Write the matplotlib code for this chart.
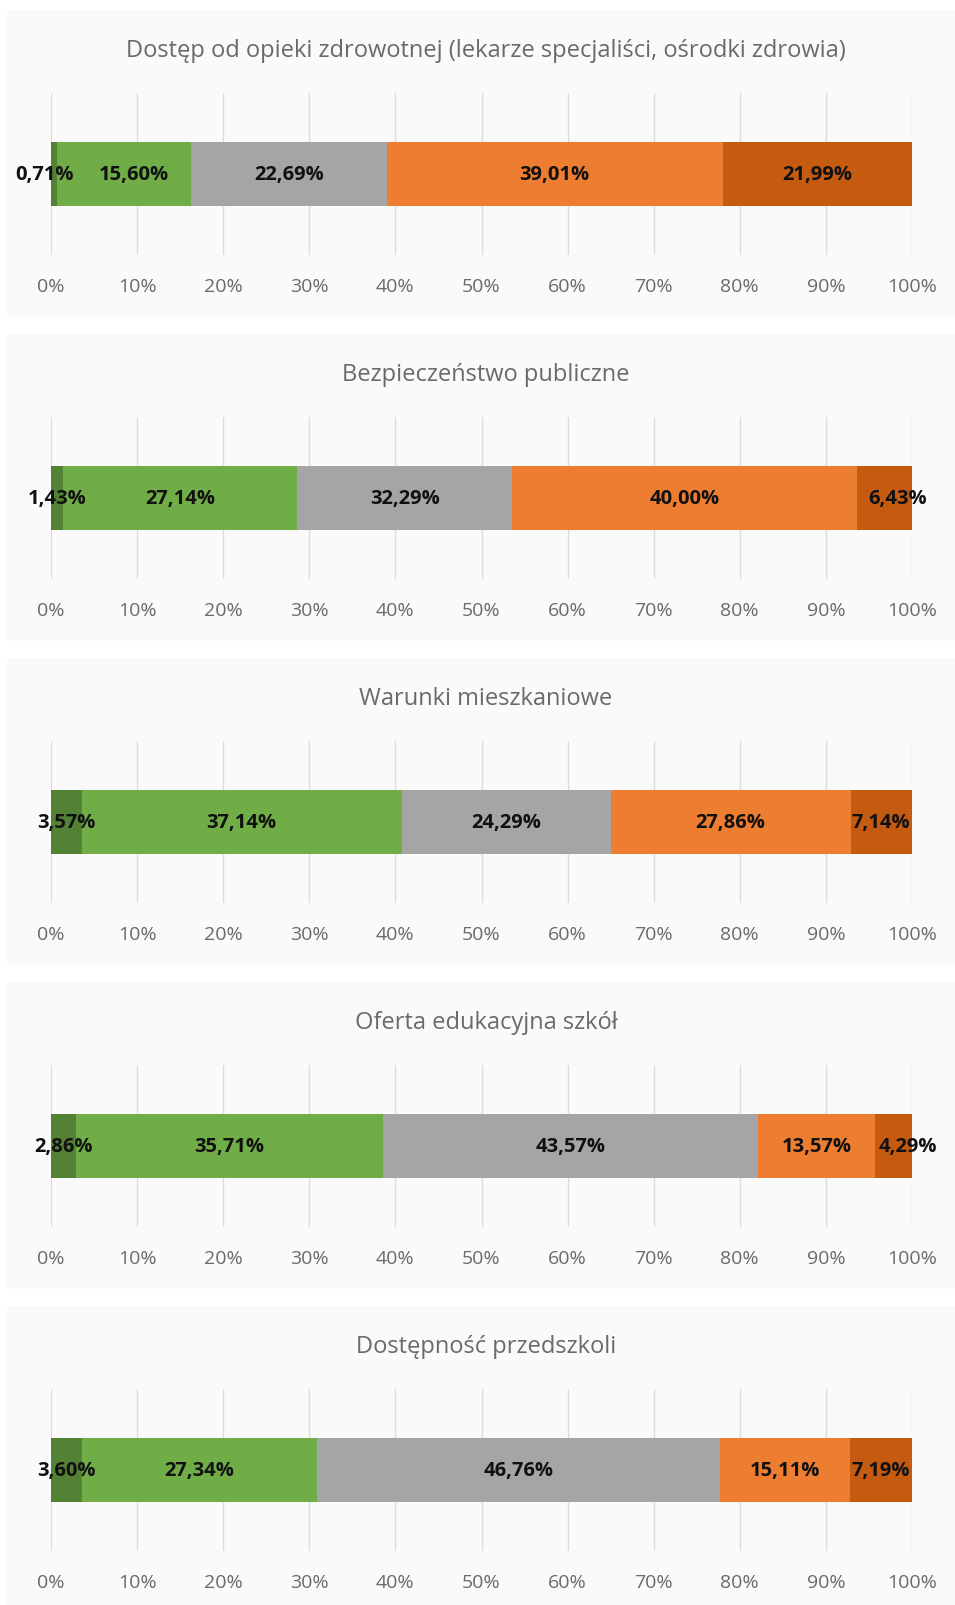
import matplotlib.pyplot as plt
from matplotlib.patches import Rectangle

# panel titles, top to bottom
TITLES = ["Dostęp od opieki zdrowotnej (lekarze specjaliści, ośrodki zdrowia)",
          "Bezpieczeństwo publiczne",
          "Warunki mieszkaniowe",
          "Oferta edukacyjna szkół",
          "Dostępność przedszkoli"]

# segment shares (in %) for each panel, left to right
ZDROWIE = [0.71, 15.60, 22.69, 39.01, 21.99]
BEZPIECZENSTWO = [1.43, 27.14, 25.00, 40.00, 6.43]
MIESZKANIA = [3.57, 37.14, 24.29, 27.86, 7.14]
SZKOLY = [2.86, 35.71, 43.57, 13.57, 4.29]
PRZEDSZKOLA = [3.60, 27.34, 46.76, 15.11, 7.19]

# labels as printed on the bars
ZDROWIE_LABELS = ["0,71%", "15,60%", "22,69%", "39,01%", "21,99%"]
BEZPIECZENSTWO_LABELS = ["1,43%", "27,14%", "32,29%", "40,00%", "6,43%"]
MIESZKANIA_LABELS = ["3,57%", "37,14%", "24,29%", "27,86%", "7,14%"]
SZKOLY_LABELS = ["2,86%", "35,71%", "43,57%", "13,57%", "4,29%"]
PRZEDSZKOLA_LABELS = ["3,60%", "27,34%", "46,76%", "15,11%", "7,19%"]

TICKS = [0, 10, 20, 30, 40, 50, 60, 70, 80, 90, 100]
TICK_LABELS = ["0%", "10%", "20%", "30%", "40%", "50%", "60%", "70%", "80%", "90%", "100%"]

COLORS = ["#548235", "#70AD47", "#A5A5A5", "#ED7D31", "#C55A11"]

# small sideways nudges (axis units) so crowded labels don't overlap,
# keyed by (panel, segment)
NUDGE = {(0, 0): -1.1, (0, 1): 1.1, (1, 4): 1.5, (3, 4): 1.7}

W, H = 955, 1606
FONT = "Open Sans"


def draw_panel(fig, k, top, title, values, labels):
    """draws one titled stacked 100% bar, top is the panel top in pixels"""
    # light background of the panel (kept behind the axes)
    fig.patches.append(Rectangle((7 / W, 1 - (top + 307) / H), 948 / W, 307 / H,
                                 transform=fig.transFigure, facecolor="#fafafa",
                                 edgecolor="none", zorder=-5))

    fig.text(486 / W, 1 - (top + 40) / H, title, ha="center", va="center",
             fontsize=17, color="#6a6a6a", family=FONT)

    ax = fig.add_axes([51 / W, 1 - (top + 245) / H, 861 / W, 162 / H])
    ax.set_facecolor("none")

    left = 0
    for i in range(len(values)):
        ax.barh(0, values[i], left=left, height=0.4, color=COLORS[i], zorder=2)
        x = left + values[i] / 2 + NUDGE.get((k, i), 0)
        ax.text(x, 0, labels[i], ha="center", va="center",
                fontsize=14.5, fontweight="bold", color="#111111", family=FONT, zorder=3)
        left += values[i]

    ax.set_xlim(0, 100)
    ax.set_ylim(-0.5, 0.5)
    ax.set_xticks(TICKS)
    ax.set_xticklabels(TICK_LABELS, family=FONT, fontsize=14, color="#6a6a6a")
    ax.set_yticks([])
    ax.tick_params(axis="x", length=0, pad=16)
    ax.grid(axis="x", color="#dcdcdc", linewidth=1, zorder=1)
    for side in ax.spines.values():
        side.set_visible(False)


def main():
    fig = plt.figure(figsize=(W / 100, H / 100), dpi=100)
    fig.patch.set_facecolor("white")

    all_values = [ZDROWIE, BEZPIECZENSTWO, MIESZKANIA, SZKOLY, PRZEDSZKOLA]
    all_labels = [ZDROWIE_LABELS, BEZPIECZENSTWO_LABELS, MIESZKANIA_LABELS,
                  SZKOLY_LABELS, PRZEDSZKOLA_LABELS]

    for k in range(5):
        draw_panel(fig, k, 11 + 324 * k, TITLES[k], all_values[k], all_labels[k])

    fig.savefig("out.png", dpi=100)


main()
